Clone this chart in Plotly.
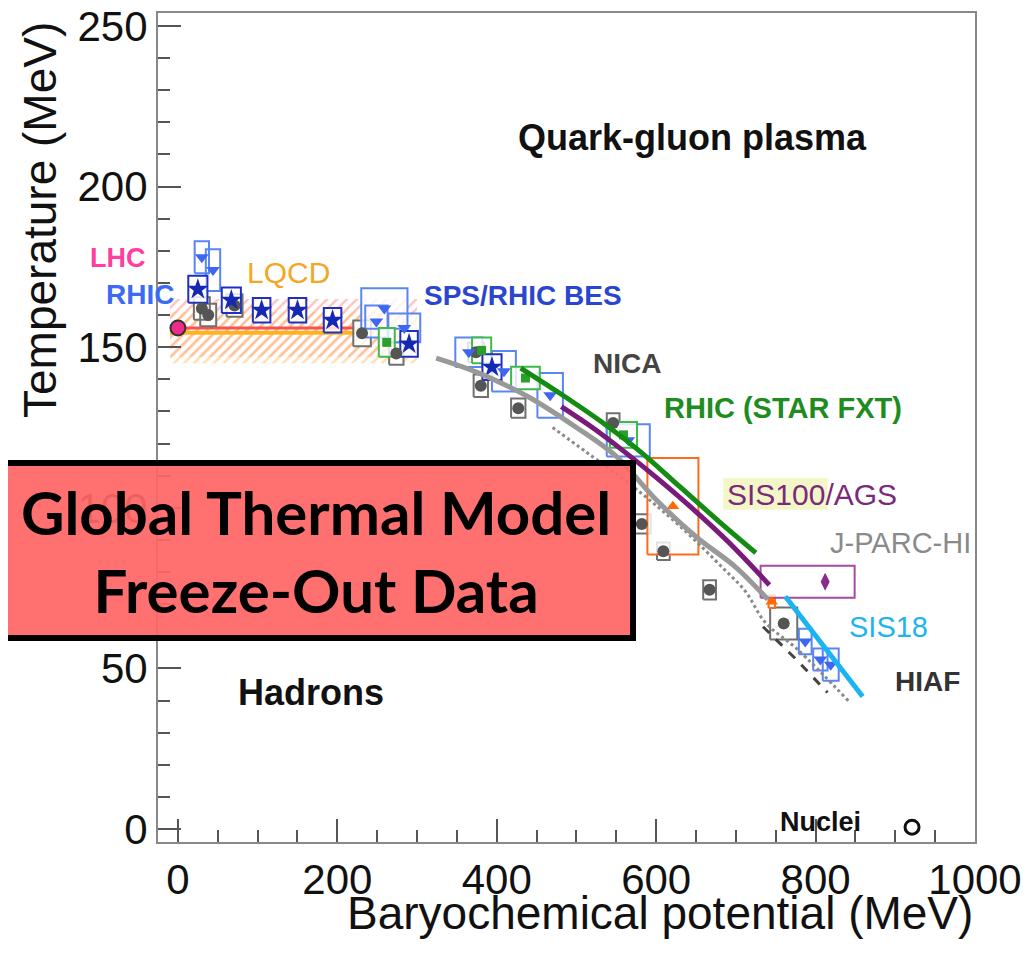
import plotly.graph_objects as go

# freeze-out points (mu_B, T, half-widths of the error boxes) in MeV
rhic_mu = [25, 67, 105, 150, 194, 290, 394]
rhic_T = [168, 164.6, 161.5, 161.5, 158.4, 151, 143.8]
rhic_dmu = [12, 12, 11, 11, 11, 11, 12]
rhic_dT = [4.2, 4, 3.8, 3.8, 3.8, 4, 4]

bes_mu = [30, 44, 259, 249, 284, 365, 409, 467, 565, 787, 806, 819]
bes_T = [178, 174, 162, 158, 156, 148.4, 142.5, 135, 121, 58.4, 52.8, 51.2]
bes_dmu = [9, 9, 29, 14, 20, 17, 15, 16, 27, 8, 9, 10]
bes_dT = [5, 6.5, 6.3, 5, 4.5, 4.6, 6.3, 7, 5, 4, 3.4, 5]

gray_mu = [30, 38, 71, 231, 274, 374, 380, 427, 546, 582, 609, 667, 760]
gray_T = [162, 160, 163, 154.3, 148, 148.4, 138, 131, 126.4, 95, 86.5, 74.5, 64]
gray_dmu = [10, 10, 10, 11, 9, 10, 9, 9, 8, 11, 8, 8, 17]
gray_dT = [3.5, 3.5, 3.5, 4, 3.5, 3, 3.5, 3, 3, 3, 2.7, 3, 5]

green_mu = [262, 381, 436, 559]
green_T = [151.5, 149, 140.4, 122.7]
green_dmu = [10, 12, 18, 17]
green_dT = [4.5, 4, 3.5, 4]

orange_mu = [621, 745]
orange_T = [100.5, 70.8]
orange_dmu = [32, 4]
orange_dT = [15, 2]

purple_mu = [812]
purple_T = [77]
purple_dmu_minus = [81]
purple_dmu_plus = [37]
purple_dT = [5]

lhc_mu = [0]
lhc_T = [156]

# LQCD crossover band
lqcd_mu = [-10, 300]
lqcd_T_red = [147, 165]
lqcd_T_orange = [145, 161]
lqcd_line_mu = [-10, 222]
lqcd_line_T_red = 156
lqcd_line_T_orange = 154.5

# freeze-out curves
gray_curve_mu = [324, 377, 440, 500, 550, 600, 650, 700, 740]
gray_curve_T = [146.6, 142, 134.5, 125, 116, 102.5, 91, 81.5, 71.5]
dot_curve_mu = [470, 512, 574, 631, 686, 712, 737, 777, 842]
dot_curve_T = [125, 117.4, 106, 94, 80.7, 74, 64.3, 56, 39.7]
dash_curve_mu = [734, 775, 815]
dash_curve_T = [63, 53, 42.5]
green_curve_mu = [430, 480, 530, 580, 630, 680, 725]
green_curve_T = [143.5, 135.5, 127, 117.5, 106.5, 95.5, 86]
purple_curve_mu = [481, 520, 560, 600, 640, 690, 742]
purple_curve_T = [131.5, 125, 117.5, 109.5, 101, 89.5, 76]
cyan_curve_mu = [762, 810, 859]
cyan_curve_T = [72.4, 57, 41.3]

nuclei_mu = [921]
nuclei_T = [0.6]


def boxes(mu, T, dlo, dhi, dT):
    xs, ys = [], []
    for m, t, a, b, e in zip(mu, T, dlo, dhi, dT):
        xs += [m - a, m + b, m + b, m - a, m - a, None]
        ys += [t - e, t - e, t + e, t + e, t - e, None]
    return xs, ys


fig = go.Figure()

# hatched LQCD band
for T_rng, col in [(lqcd_T_red, "#ff8a7a"), (lqcd_T_orange, "#ffbb66")]:
    fig.add_trace(go.Scatter(
        x=[lqcd_mu[0], lqcd_mu[1], lqcd_mu[1], lqcd_mu[0], lqcd_mu[0]],
        y=[T_rng[0], T_rng[0], T_rng[1], T_rng[1], T_rng[0]],
        fill="toself", mode="none", fillcolor="rgba(255,255,255,0)",
        fillpattern=dict(shape="/", fgcolor=col, bgcolor="rgba(255,255,255,0)", size=7, solidity=0.35),
        hoverinfo="skip", showlegend=False))

fig.add_trace(go.Scatter(x=lqcd_line_mu, y=[lqcd_line_T_orange] * 2, mode="lines",
                         line=dict(color="#ffb41e", width=4), showlegend=False))
fig.add_trace(go.Scatter(x=lqcd_line_mu, y=[lqcd_line_T_red] * 2, mode="lines",
                         line=dict(color="#ff5050", width=3), showlegend=False))

# error boxes
groups = [
    (gray_mu, gray_T, gray_dmu, gray_dmu, gray_dT, "#707070"),
    (bes_mu, bes_T, bes_dmu, bes_dmu, bes_dT, "#5a86f5"),
    (green_mu, green_T, green_dmu, green_dmu, green_dT, "#3dbb4a"),
    (rhic_mu, rhic_T, rhic_dmu, rhic_dmu, rhic_dT, "#1f30c0"),
    (orange_mu, orange_T, orange_dmu, orange_dmu, orange_dT, "#ff6a1a"),
    (purple_mu, purple_T, purple_dmu_minus, purple_dmu_plus, purple_dT, "#a54aa5"),
]
for mu, T, dlo, dhi, dT, col in groups:
    bx, by = boxes(mu, T, dlo, dhi, dT)
    fig.add_trace(go.Scatter(x=bx, y=by, mode="lines", fill="toself",
                             fillcolor="rgba(255,255,255,0.8)",
                             line=dict(color=col, width=2), hoverinfo="skip", showlegend=False))

# markers
markers = [
    (gray_mu, gray_T, "circle", "#555555", 12),
    (bes_mu, bes_T, "triangle-down", "#3f66f0", 12),
    (green_mu, green_T, "square", "#2aa02a", 9),
    (rhic_mu, rhic_T, "star", "#1428b4", 16),
    (orange_mu, orange_T, "triangle-up", "#ff6a00", 11),
    (purple_mu, purple_T, "diamond-tall", "#8a2a8a", 13),
]
for mu, T, sym, col, sz in markers:
    fig.add_trace(go.Scatter(x=mu, y=T, mode="markers",
                             marker=dict(symbol=sym, color=col, size=sz), showlegend=False))

fig.add_trace(go.Scatter(x=lhc_mu, y=lhc_T, mode="markers", cliponaxis=False,
                         marker=dict(symbol="circle", color="#ee2a8c", size=15,
                                     line=dict(color="#333333", width=2)), showlegend=False))

# freeze-out curves
fig.add_trace(go.Scatter(x=dot_curve_mu, y=dot_curve_T, mode="lines", line_shape="spline",
                         line=dict(color="#8a8a8a", width=3, dash="dot"), showlegend=False))
fig.add_trace(go.Scatter(x=dash_curve_mu, y=dash_curve_T, mode="lines",
                         line=dict(color="#444444", width=3, dash="dash"), showlegend=False))
fig.add_trace(go.Scatter(x=gray_curve_mu, y=gray_curve_T, mode="lines", line_shape="spline",
                         line=dict(color="#999999", width=5), showlegend=False))
fig.add_trace(go.Scatter(x=green_curve_mu, y=green_curve_T, mode="lines", line_shape="spline",
                         line=dict(color="#148c14", width=5), showlegend=False))
fig.add_trace(go.Scatter(x=purple_curve_mu, y=purple_curve_T, mode="lines", line_shape="spline",
                         line=dict(color="#7a1a7a", width=5), showlegend=False))
fig.add_trace(go.Scatter(x=cyan_curve_mu, y=cyan_curve_T, mode="lines",
                         line=dict(color="#1ab4f0", width=5), showlegend=False))
fig.add_trace(go.Scatter(x=nuclei_mu, y=nuclei_T, mode="markers", cliponaxis=False,
                         marker=dict(symbol="circle-open", color="#111111", size=14,
                                     line=dict(width=3)), showlegend=False))

FONT = "Liberation Sans, Arial, sans-serif"


def label(text, x, y, color, size, bold=True, xref="x", yref="y"):
    fig.add_annotation(x=x, y=y, xref=xref, yref=yref, showarrow=False,
                       xanchor="center", yanchor="middle",
                       text=f"<b>{text}</b>" if bold else text,
                       font=dict(family=FONT, size=size, color=color))


label("Quark-gluon plasma", 646, 215.2, "#111111", 36)
label("Hadrons", 167.5, 42.5, "#111111", 36)
label("Nuclei", 806, 2.2, "#111111", 27)
label("LHC", -0.049, 0.7045, "#ff3fa0", 27, xref="paper", yref="paper")
label("RHIC", -0.022, 0.66, "#3d6af5", 28, xref="paper", yref="paper")
label("LQCD", 139, 173.3, "#f5a623", 30, bold=False)
label("SPS/RHIC BES", 432.5, 166, "#2a46d0", 28)
label("NICA", 564, 145, "#444444", 28)
label("RHIC (STAR FXT)", 759, 131, "#1e8c1e", 29)
label("J-PARC-HI", 907, 89, "#8a8a8a", 29, bold=False)
label("SIS18", 891, 63, "#1eb4f0", 29, bold=False)
label("HIAF", 941, 46, "#333333", 28)

# SIS100/AGS with a pale highlight behind "SIS100"
fig.add_shape(type="rect", xref="x", yref="y", x0=684, x1=815, y0=99.4, y1=109.3,
              fillcolor="#f3f7c8", line_width=0, layer="below")
label("SIS100/AGS", 796, 104.3, "#7b2a7b", 30, bold=False)

# axis titles (ROOT style: aligned to the axis end)
fig.add_annotation(x=1, y=-0.086, xref="paper", yref="paper", xanchor="right", yanchor="middle",
                   showarrow=False, text="Baryochemical potential (MeV)",
                   font=dict(family=FONT, size=46, color="#111111"))
fig.add_annotation(x=-0.1444, y=0.9916, xref="paper", yref="paper", xanchor="center", yanchor="top",
                   textangle=-90, showarrow=False, text="Temperature (MeV)",
                   font=dict(family=FONT, size=46, color="#111111"))

# red overlay box
fig.add_shape(type="rect", xref="paper", yref="paper", x0=-0.1934, x1=0.5814, y0=0.246, y1=0.4572,
              fillcolor="rgba(255,102,102,0.93)", line=dict(color="black", width=6), layer="above")
fig.add_annotation(x=0.1934, y=0.351, xref="paper", yref="paper", showarrow=False,
                   xanchor="center", yanchor="middle",
                   text="<b>Global Thermal Model</b><br><b>Freeze-Out Data</b>",
                   font=dict(family="Lato, Open Sans, sans-serif", size=60, color="black"))

fig.update_xaxes(range=[-25, 1000], tickmode="array", tickvals=[0, 200, 400, 600, 800, 1000],
                 ticks="inside", ticklen=23, tickwidth=1.5, tickcolor="#555555",
                 minor=dict(ticks="inside", ticklen=12, dtick=50, tickcolor="#555555", tickwidth=1.5),
                 showline=True, linecolor="#888888", linewidth=2, mirror=True, showgrid=False,
                 zeroline=False, automargin=False, ticklabeloverflow="allow",
                 tickfont=dict(family=FONT, size=42, color="#111111"))
fig.update_yaxes(range=[-4, 254], tickmode="array", tickvals=[0, 50, 100, 150, 200, 250],
                 ticks="inside", ticklen=23, tickwidth=1.5, tickcolor="#555555",
                 minor=dict(ticks="inside", ticklen=12, dtick=10, tickcolor="#555555", tickwidth=1.5),
                 showline=True, linecolor="#888888", linewidth=2, mirror=True, showgrid=False,
                 zeroline=False, automargin=False, ticklabeloverflow="allow",
                 tickfont=dict(family=FONT, size=42, color="#111111"))

# the page places the figure 8px in from the top-left corner, so margins are offset by that
fig.update_layout(width=1030, height=954, margin=dict(l=150, r=63, t=5, b=120),
                  plot_bgcolor="white", paper_bgcolor="white", showlegend=False)

fig.write_html("out.html")
